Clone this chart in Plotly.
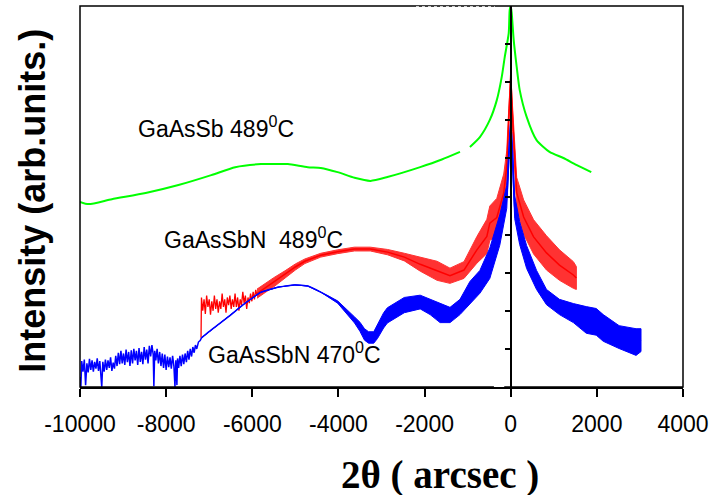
import plotly.graph_objects as go

# ---------------- data ----------------
x_ticks = [-10000, -8000, -6000, -4000, -2000, 0, 2000, 4000]
x_tick_labels = ["-10000", "-8000", "-6000", "-4000", "-2000", "0", "2000", "4000"]
y_ticks = [1, 2, 3, 4, 5, 6, 7, 8, 9]

# GaAsSb 489 C (green)
green_x = [-10000, -9800, -9260, -8476, -7714, -6952, -6397, -5797, -5404, -5173, -4711,
           -4411, -4020, -3626, -3256, -2864, -2102, -1600, -1178, None,
           -947, -716, -485, -323, -208, -139, -46, -23, 0, 23, 69, 139, 208, 370,
           600, 901, 1224, 1524, 1870]
green_y = [4.86, 4.80, 4.93, 5.09, 5.30, 5.56, 5.77, 5.85, 5.85, 5.85, 5.77,
           5.75, 5.64, 5.49, 5.41, 5.51, 5.77, 5.97, 6.17, None,
           6.30, 6.56, 7.01, 7.53, 8.14, 8.66, 9.29, 9.90, 10.0, 9.82, 9.11, 8.40, 7.80, 7.09,
           6.48, 6.17, 6.01, 5.83, 5.64]

# GaAsSbN 489 C (red): noisy start
red_tail_x = [-7190, -7180, -7150, -7120, -7090, -7060, -7030, -7000, -6970, -6940, -6910,
              -6880, -6850, -6820, -6790, -6760, -6730, -6700, -6670, -6640, -6610, -6580,
              -6550, -6520, -6490, -6460, -6430, -6400, -6370, -6340, -6310, -6280, -6250,
              -6220, -6190, -6160, -6130, -6100, -6070, -6040, -6010, -5980, -5950, -5920,
              -5890]
red_tail_y = [1.29, 2.35, 2.00, 2.30, 1.92, 2.40, 2.10, 2.30, 1.90, 2.25, 2.00,
              2.40, 2.05, 2.30, 1.95, 2.25, 2.05, 2.45, 2.10, 2.30, 1.95, 2.35,
              2.15, 2.40, 2.05, 2.30, 2.10, 2.45, 2.10, 2.35, 2.00, 2.30, 2.15,
              2.50, 2.20, 2.40, 2.05, 2.35, 2.20, 2.45, 2.25, 2.50, 2.30, 2.55,
              2.40]

# GaAsSbN 489 C (red): centre and noise half-width
red_x = [-5890, -5700, -5500, -5240, -5000, -4780, -4410, -4020, -3630, -3260, -2860,
         -2470, -2100, -1710, -1410, -1085, -785, -554, -485, -323, -162, -92, -46, 0,
         46, 92, 139, 300, 531, 831, 1132, 1455, 1524]
red_y = [2.45, 2.60, 2.75, 2.95, 3.15, 3.30, 3.46, 3.55, 3.62, 3.62, 3.54,
         3.41, 3.22, 3.05, 2.92, 3.07, 3.60, 3.95, 4.30, 4.45, 5.09, 5.80, 7.00, 8.19,
         7.00, 5.96, 5.10, 4.46, 3.94, 3.52, 3.20, 2.94, 2.86]
red_n = [0.12, 0.12, 0.12, 0.10, 0.08, 0.06, 0.05, 0.05, 0.05, 0.05, 0.07,
         0.10, 0.18, 0.25, 0.20, 0.22, 0.35, 0.45, 0.45, 0.50, 0.50, 0.40, 0.30, 0.0,
         0.30, 0.40, 0.40, 0.45, 0.45, 0.45, 0.40, 0.35, 0.30]

# GaAsSbN 470 C (blue): noisy low-angle tail
blue_tail_x = [-10000, -9980, -9960, -9930, -9900, -9870, -9840, -9810, -9780, -9750, -9720,
               -9690, -9660, -9630, -9600, -9570, -9540, -9510, -9495, -9470, -9440, -9410,
               -9380, -9350, -9320, -9290, -9260, -9230, -9200, -9170, -9140, -9110, -9080,
               -9050, -9020, -8990, -8960, -8930, -8900, -8870, -8840, -8810, -8780, -8750,
               -8720, -8690, -8660, -8630, -8600, -8570, -8540, -8510, -8480, -8450, -8420,
               -8390, -8360, -8330, -8300, -8285, -8265, -8240, -8210, -8180, -8150, -8120,
               -8090, -8060, -8030, -8000, -7970, -7940, -7910, -7880, -7850, -7820, -7795,
               -7775, -7750, -7735, -7710, -7680, -7650, -7620, -7590, -7560, -7530, -7500,
               -7470, -7440, -7410, -7380, -7350, -7320, -7290, -7250, -7210]
blue_tail_y = [0.26, 0.00, 0.68, 0.40, 0.72, 0.05, 0.62, 0.38, 0.74, 0.45, 0.70,
               0.40, 0.66, 0.48, 0.75, 0.42, 0.68, 0.30, 0.00, 0.66, 0.40, 0.72,
               0.45, 0.70, 0.50, 0.78, 0.42, 0.64, 0.48, 0.82, 0.55, 0.90, 0.60,
               0.95, 0.62, 0.88, 0.58, 0.98, 0.65, 0.92, 0.55, 0.96, 0.62, 1.00,
               0.70, 0.95, 0.58, 1.02, 0.66, 0.92, 0.60, 1.05, 0.72, 0.98, 0.62,
               1.08, 0.80, 1.10, 0.85, 0.02, 0.95, 0.70, 1.00, 0.62, 0.92, 0.55,
               0.88, 0.50, 0.85, 0.45, 0.80, 0.52, 0.78, 0.48, 0.82, 0.55, 0.00,
               0.70, 0.05, 0.75, 0.50, 0.82, 0.55, 0.85, 0.60, 0.88, 0.65, 0.95,
               0.72, 1.00, 0.80, 1.05, 0.90, 1.10, 1.00, 1.18, 1.22]

# GaAsSbN 470 C (blue): main part, centre and noise half-width
blue_x = [-7180, -6952, -6559, -6166, -5797, -5404, -5012, -4711, -4411, -4018, -3626,
          -3500, -3395, -3300, -3180, -3095, -2950, -2864, -2471, -2102, -1871, -1640,
          -1409, -1178, -947, -716, -485, -254, -92, -46, 0, 46, 92, 208, 370, 600, 831,
          1132, 1455, 1755, 1986, 2148, 2517, 2910, 3025]
blue_y = [1.29, 1.50, 1.84, 2.20, 2.49, 2.62, 2.68, 2.65, 2.49, 2.23, 1.76,
          1.58, 1.38, 1.30, 1.30, 1.45, 1.75, 1.88, 2.15, 2.23, 2.10, 1.94,
          1.89, 2.10, 2.47, 2.76, 3.25, 4.12, 4.99, 6.00, 7.01, 6.00, 4.72, 4.04, 3.41, 2.81, 2.36,
          2.10, 1.94, 1.76, 1.71, 1.55, 1.31, 1.18, 1.23]
blue_n = [0.0, 0.0, 0.0, 0.0, 0.0, 0.0, 0.0, 0.0, 0.0, 0.03, 0.08,
          0.12, 0.15, 0.15, 0.15, 0.18, 0.20, 0.20, 0.20, 0.18, 0.20, 0.25,
          0.20, 0.20, 0.30, 0.30, 0.40, 0.40, 0.30, 0.20, 0.0, 0.20, 0.30, 0.30, 0.30, 0.25, 0.20,
          0.20, 0.25, 0.35, 0.35, 0.35, 0.30, 0.35, 0.30]

labels = ["GaAsSb 489<sup>0</sup>C", "GaAsSbN  489<sup>0</sup>C", "GaAsSbN 470<sup>0</sup>C"]
label_x = [-8707, -8106, -7067]
label_y = [6.82, 3.91, 0.89]

# ---------------- figure ----------------
GREEN = "#00ff00"
RED = "#ff0000"
BLUE = "#0000ff"

fig = go.Figure()


def band(xs, ys, ns, color, opacity):
    up = [y + n for y, n in zip(ys, ns)]
    lo = [y - n for y, n in zip(ys, ns)]
    fig.add_trace(go.Scatter(
        x=list(xs) + list(xs)[::-1], y=up + lo[::-1],
        fill="toself", fillcolor=color, opacity=opacity,
        line=dict(color=color, width=1), mode="lines",
        hoverinfo="skip", showlegend=False))


fig.add_trace(go.Scatter(x=green_x, y=green_y, mode="lines",
                         line=dict(color=GREEN, width=2, shape="spline", smoothing=0.6),
                         connectgaps=False, showlegend=False))

fig.add_trace(go.Scatter(x=red_tail_x, y=red_tail_y, mode="lines",
                         line=dict(color=RED, width=1.3), showlegend=False))
band(red_x, red_y, red_n, RED, 0.8)
fig.add_trace(go.Scatter(x=red_x, y=red_y, mode="lines",
                         line=dict(color=RED, width=1.5), showlegend=False))

fig.add_trace(go.Scatter(x=blue_tail_x + blue_x[:1], y=blue_tail_y + blue_y[:1], mode="lines",
                         line=dict(color=BLUE, width=1.5), showlegend=False))
band(blue_x, blue_y, blue_n, BLUE, 1.0)
fig.add_trace(go.Scatter(x=blue_x, y=blue_y, mode="lines",
                         line=dict(color=BLUE, width=1.5, shape="spline", smoothing=0.4),
                         showlegend=False))

for t, xx, yy in zip(labels, label_x, label_y):
    fig.add_annotation(x=xx, y=yy, text=t, showarrow=False, xanchor="left", yanchor="middle",
                       font=dict(family="Liberation Sans, Arial", size=23, color="black"))

fig.add_annotation(xref="paper", yref="paper", x=-0.079, y=0.49, text="<b>Intensity (arb.units.)</b>",
                   textangle=-90, showarrow=False, xanchor="center", yanchor="middle",
                   font=dict(family="Liberation Sans, Arial", size=36, color="black"))
fig.add_annotation(xref="paper", yref="paper", x=0.597, y=-0.232, text="<b>2θ ( arcsec )</b>",
                   showarrow=False, xanchor="center", yanchor="middle",
                   font=dict(family="Liberation Serif, Times New Roman", size=39, color="black"))

# frame
fig.add_shape(type="rect", xref="paper", yref="paper", x0=0, y0=0, x1=1, y1=1,
              line=dict(color="black", width=1.5), layer="above")
fig.add_shape(type="line", xref="x", yref="y", x0=-2200, x1=-370, y0=10, y1=10,
              line=dict(color="white", width=1.5, dash="dot"), layer="above")
fig.add_shape(type="line", xref="x", yref="y", x0=-390, x1=-150, y0=0, y1=0,
              line=dict(color="white", width=2), layer="above")

fig.update_layout(
    width=715, height=495,
    margin=dict(l=80, r=28, t=6, b=108),
    paper_bgcolor="white", plot_bgcolor="white",
    xaxis=dict(range=[-10000, 4000], tickvals=x_ticks, ticktext=x_tick_labels,
               ticks="outside", ticklen=8, tickwidth=1.5, tickcolor="black",
               ticklabelstandoff=8,
               showline=True, linecolor="black", linewidth=1.5,
               showgrid=False, zeroline=False,
               tickfont=dict(family="Liberation Sans, Arial", size=23, color="black")),
    yaxis=dict(range=[0, 10], anchor="free", position=10000 / 14000,
               tickvals=y_ticks, showticklabels=False,
               ticks="outside", ticklen=5, tickwidth=1.5, tickcolor="black",
               showline=True, linecolor="black", linewidth=1.5,
               showgrid=False, zeroline=False),
)

fig.write_html("out.html")
